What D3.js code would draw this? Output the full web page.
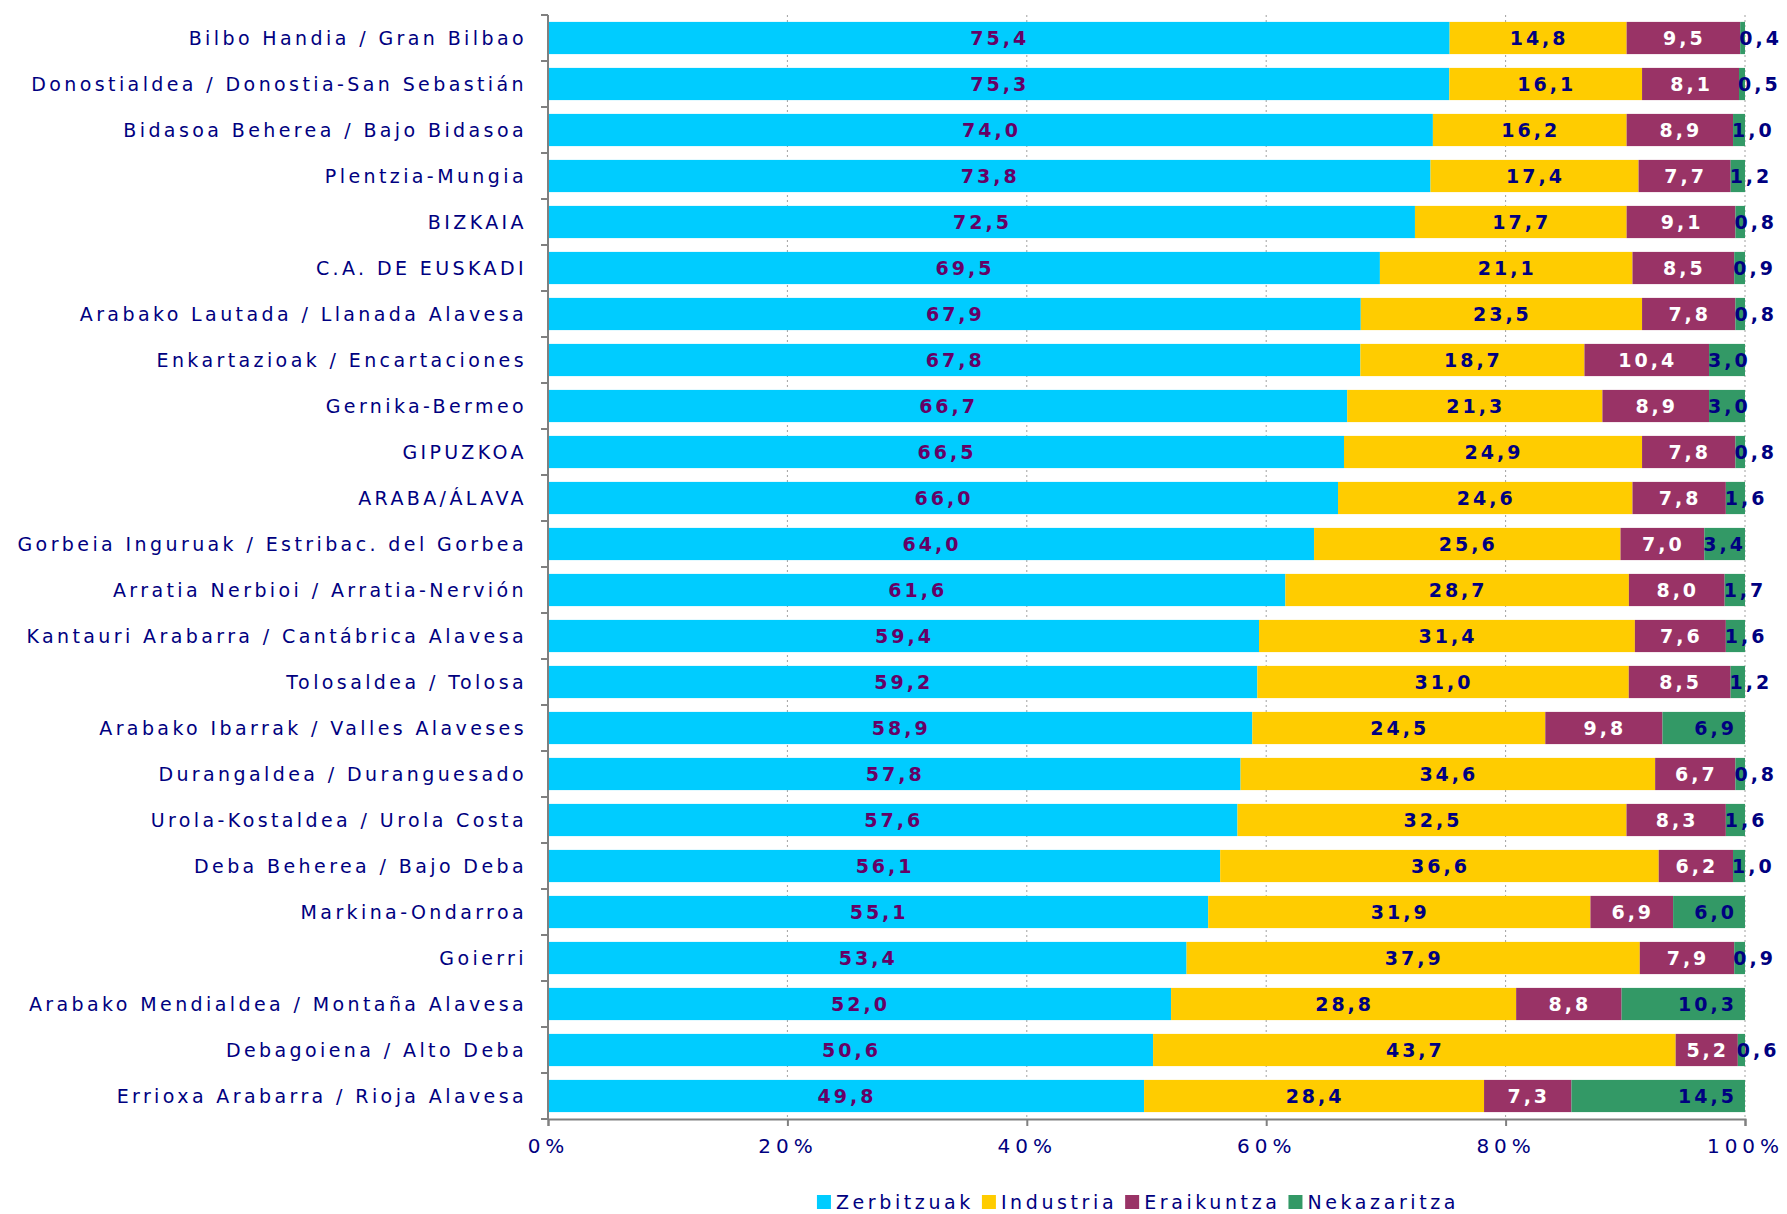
<!DOCTYPE html>
<html>
<head>
<meta charset="utf-8">
<script src="https://cdn.jsdelivr.net/npm/d3@7"></script>
<style>
 body{margin:0;background:#fff;}
 text{font-family:"DejaVu Sans",Verdana,sans-serif;}
</style>
</head>
<body>
<svg id="chart" width="1787" height="1214"></svg>
<script>
// ---- data ----
const regions=["Bilbo Handia / Gran Bilbao","Donostialdea / Donostia-San Sebastián","Bidasoa Beherea / Bajo Bidasoa","Plentzia-Mungia","BIZKAIA","C.A. DE EUSKADI","Arabako Lautada / Llanada Alavesa","Enkartazioak / Encartaciones","Gernika-Bermeo","GIPUZKOA","ARABA/ÁLAVA","Gorbeia Inguruak / Estribac. del Gorbea","Arratia Nerbioi / Arratia-Nervión","Kantauri Arabarra / Cantábrica Alavesa","Tolosaldea / Tolosa","Arabako Ibarrak / Valles Alaveses","Durangaldea / Duranguesado","Urola-Kostaldea / Urola Costa","Deba Beherea / Bajo Deba","Markina-Ondarroa","Goierri","Arabako Mendialdea / Montaña Alavesa","Debagoiena / Alto Deba","Errioxa Arabarra / Rioja Alavesa"];
const zerbitzuak=[75.4,75.3,74.0,73.8,72.5,69.5,67.9,67.8,66.7,66.5,66.0,64.0,61.6,59.4,59.2,58.9,57.8,57.6,56.1,55.1,53.4,52.0,50.6,49.8];
const industria=[14.8,16.1,16.2,17.4,17.7,21.1,23.5,18.7,21.3,24.9,24.6,25.6,28.7,31.4,31.0,24.5,34.6,32.5,36.6,31.9,37.9,28.8,43.7,28.4];
const eraikuntza=[9.5,8.1,8.9,7.7,9.1,8.5,7.8,10.4,8.9,7.8,7.8,7.0,8.0,7.6,8.5,9.8,6.7,8.3,6.2,6.9,7.9,8.8,5.2,7.3];
const nekazaritza=[0.4,0.5,1.0,1.2,0.8,0.9,0.8,3.0,3.0,0.8,1.6,3.4,1.7,1.6,1.2,6.9,0.8,1.6,1.0,6.0,0.9,10.3,0.6,14.5];
const seriesNames=["Zerbitzuak","Industria","Eraikuntza","Nekazaritza"];
const xTicks=[0,0.2,0.4,0.6,0.8,1];

const colors=["#00CCFF","#FFCC00","#993366","#339966"];
const labelColors=["#660066","#000080","#ffffff","#000080"];
const navy="#000080";

const rows=regions.map((r,i)=>({region:r,Zerbitzuak:zerbitzuak[i],Industria:industria[i],Eraikuntza:eraikuntza[i],Nekazaritza:nekazaritza[i]}));
const stacked=d3.stack().keys(seriesNames).offset(d3.stackOffsetExpand)(rows);

const svg=d3.select("#chart");
const x=d3.scaleLinear().domain([0,1]).range([548,1745]);
const y=d3.scaleBand().domain(regions).range([15,1119]).paddingInner(0.3).paddingOuter(0.15);

// grid
svg.append("g").selectAll("line").data(xTicks.slice(1)).enter().append("line")
 .attr("x1",d=>x(d)).attr("x2",d=>x(d)).attr("y1",15).attr("y2",1119)
 .attr("stroke","#a0a0a0").attr("stroke-dasharray","2,3");

// bars
const layer=svg.append("g").selectAll("g").data(stacked).enter().append("g")
 .attr("fill",(d,i)=>colors[i]);
layer.selectAll("rect").data(d=>d).enter().append("rect")
 .attr("x",d=>x(d[0])).attr("width",d=>x(d[1])-x(d[0]))
 .attr("y",d=>y(d.data.region)).attr("height",y.bandwidth());

// value labels: small last segments start at segment, wide ones sit near the end
function labelPos(d,si,v){
 if(si===3&&v<5) return [x(d[0])-1,"start"];
 if(si===3) return [x(1)-8,"end"];
 return [(x(d[0])+x(d[1]))/2+1,"middle"];
}
stacked.forEach((s,si)=>{
 svg.append("g").selectAll("text").data(s).enter().append("text")
  .attr("x",d=>labelPos(d,si,d.data[s.key])[0])
  .attr("y",d=>y(d.data.region)+y.bandwidth()/2)
  .attr("dy","0.37em")
  .attr("text-anchor",d=>labelPos(d,si,d.data[s.key])[1])
  .attr("fill",labelColors[si])
  .style("font-size","19px").style("font-weight","bold").style("letter-spacing","3px")
  .text(d=>d.data[s.key].toFixed(1).replace(".",","));
});

// left axis
const yAxis=svg.append("g").attr("transform","translate(548,0)");
yAxis.append("line").attr("x1",0).attr("x2",0).attr("y1",15).attr("y2",1119).attr("stroke","#808080").attr("stroke-width",2);
const bounds=regions.map(r=>y(r)-y.step()*y.paddingInner()/2).concat([1119]);
yAxis.selectAll("line.t").data(bounds).enter().append("line")
 .attr("x1",-7).attr("x2",0).attr("y1",d=>d).attr("y2",d=>d).attr("stroke","#808080").attr("stroke-width",2);
yAxis.selectAll("text").data(regions).enter().append("text")
 .attr("x",-21).attr("y",d=>y(d)+y.bandwidth()/2).attr("dy","0.36em")
 .attr("text-anchor","end").attr("fill",navy)
 .style("font-size","19px").style("letter-spacing","3.4px")
 .text(d=>d);

// bottom axis
const xAxis=svg.append("g").attr("transform","translate(0,1119)")
 .call(d3.axisBottom(x).tickValues(xTicks).tickFormat(d3.format(".0%")).tickSize(7).tickPadding(13));
xAxis.select(".domain").attr("stroke","#808080").attr("stroke-width",2);
xAxis.selectAll(".tick line").attr("stroke","#808080").attr("stroke-width",2);
xAxis.selectAll(".tick text").attr("fill",navy)
 .style("font-family","DejaVu Sans").style("font-size","20px").style("letter-spacing","5px");

// legend
const legend=svg.append("g");
let lx=0;
seriesNames.forEach((n,i)=>{
 const g=legend.append("g").attr("transform",`translate(${lx},0)`);
 g.append("rect").attr("x",0).attr("y",-7).attr("width",14).attr("height",14).attr("fill",colors[i]);
 const t=g.append("text").attr("x",19).attr("dy","0.36em").attr("fill",navy)
  .style("font-size","19px").style("letter-spacing","3.6px").text(n);
 lx+=19+t.node().getComputedTextLength()+8;
});
legend.attr("transform",`translate(${1138-(lx-8)/2},1202)`);
</script>
</body>
</html>
